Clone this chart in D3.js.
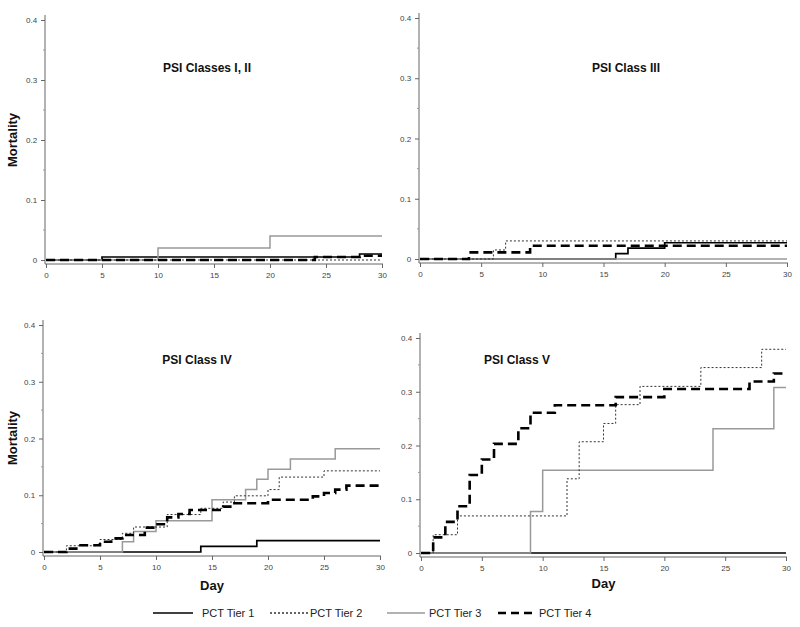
<!DOCTYPE html>
<html><head><meta charset="utf-8">
<script src="https://cdn.jsdelivr.net/npm/d3@7"></script>
<style>body{margin:0;background:#fff}svg{display:block}</style>
</head><body>
<svg id="c" width="800" height="627"></svg>
<script>
// ---------- DATA (step points: [day, cumulative mortality]) ----------
const panelTitles = ["PSI Classes I, II", "PSI Class III", "PSI Class IV", "PSI Class V"];
const tierNames = ["PCT Tier 1", "PCT Tier 2", "PCT Tier 3", "PCT Tier 4"];
const xTicks = [0, 5, 10, 15, 20, 25, 30];
const yTicks = [0, 0.1, 0.2, 0.3, 0.4];
const yTickLabels = ["0", "0.1", "0.2", "0.3", "0.4"];
const lastDay = 30;

// PSI Classes I, II
const c12_tier1 = [[0,0],[5,0.005],[28,0.01]];
const c12_tier2 = [[0,0]];
const c12_tier3 = [[0,0],[10,0.02],[20,0.04]];
const c12_tier4 = [[0,0],[24,0.005],[28,0.007]];
// PSI Class III
const c3_tier1 = [[0,0],[16,0.009],[17,0.018],[20,0.027]];
const c3_tier2 = [[0,0],[6,0.015],[7,0.03]];
const c3_tier3 = [[0,0]];
const c3_tier4 = [[0,0],[4,0.011],[9,0.022]];
// PSI Class IV
const c4_tier1 = [[0,0],[14,0.01],[19,0.02]];
const c4_tier2 = [[0,0],[2,0.011],[5,0.022],[7,0.033],[8,0.044],[11,0.066],[14,0.077],[16,0.088],[17,0.099],[20,0.11],[21,0.132],[25,0.143]];
const c4_tier3 = [[0,0],[7,0.018],[8,0.036],[10,0.055],[15,0.092],[18,0.11],[19,0.128],[20,0.146],[22,0.164],[26,0.182]];
const c4_tier4 = [[0,0],[2,0.006],[3,0.012],[5,0.018],[6,0.024],[7,0.03],[9,0.043],[10,0.049],[11,0.061],[12,0.067],[13,0.074],[16,0.08],[17,0.086],[20,0.092],[24,0.098],[25,0.104],[26,0.11],[27,0.117]];
// PSI Class V
const c5_tier1 = [[0,0]];
const c5_tier2 = [[0,0],[1,0.034],[3,0.069],[12,0.138],[13,0.207],[15,0.241],[16,0.276],[18,0.31],[23,0.345],[28,0.379]];
const c5_tier3 = [[0,0],[9,0.077],[10,0.154],[24,0.231],[29,0.308]];
const c5_tier4 = [[0,0],[1,0.029],[2,0.058],[3,0.087],[4,0.145],[5,0.174],[6,0.203],[8,0.232],[9,0.261],[11,0.275],[16,0.29],[20,0.305],[27,0.319],[29,0.334]];

const panelSeries = [
  [c12_tier1, c12_tier2, c12_tier3, c12_tier4],
  [c3_tier1, c3_tier2, c3_tier3, c3_tier4],
  [c4_tier1, c4_tier2, c4_tier3, c4_tier4],
  [c5_tier1, c5_tier2, c5_tier3, c5_tier4]
];

// ---------- LAYOUT / STYLE ----------
const layout = [
  {x0:46,  x30:382, y0:260, y4:20,  tx:207, ty:72,  ylab:140, xlab:null},
  {x0:420, x30:787, y0:259, y4:18,  tx:626, ty:72,  ylab:null, xlab:null},
  {x0:44,  x30:380, y0:552, y4:325, tx:197, ty:364, ylab:438, xlab:590},
  {x0:421, x30:786, y0:553, y4:338, tx:517, ty:364, ylab:null, xlab:588}
];
const styles = [
  {stroke:"#000",    width:1.7, dash:null},
  {stroke:"#333",    width:1,   dash:"2,2"},
  {stroke:"#999",    width:1.5, dash:null},
  {stroke:"#000",    width:2.6, dash:"9,5"}
];
const drawOrder = [0, 2, 1, 3];
const font = "Arial, 'Liberation Sans', Helvetica, sans-serif";

const svg = d3.select("#c");

layout.forEach((L, p) => {
  const x = d3.scaleLinear().domain([0, 30]).range([L.x0, L.x30]);
  const y = d3.scaleLinear().domain([0, 0.4]).range([L.y0, L.y4]);
  const g = svg.append("g");

  // x axis
  const xAxisY = L.y0 + 4;
  const xa = g.append("g").attr("transform", `translate(0,${xAxisY})`)
    .call(d3.axisBottom(x).tickValues(xTicks).tickSize(4).tickSizeOuter(0).tickFormat(d3.format("d")));
  xa.select(".domain").attr("stroke", "#666").attr("d", `M${L.x0-1},0H${L.x30+1}`);
  xa.selectAll(".tick line").attr("stroke", "#666");
  xa.selectAll(".tick text").attr("font-family", font).attr("font-size", 8).attr("fill", "#444").attr("dy", "0.9em");

  // y axis
  const ya = g.append("g").attr("transform", `translate(${L.x0-1},0)`)
    .call(d3.axisLeft(y).tickValues(yTicks).tickSize(4).tickSizeOuter(0).tickFormat((d,i) => yTickLabels[i]));
  ya.select(".domain").attr("stroke", "#666").attr("d", `M0,${L.y4-5}V${xAxisY}`);
  ya.selectAll(".tick line").attr("stroke", "#666");
  ya.selectAll(".tick text").attr("font-family", font).attr("font-size", 8).attr("fill", "#444").attr("dx", "-0.1em");
  // minor ticks
  g.append("g").selectAll("line").data([0.05, 0.15, 0.25, 0.35]).join("line")
    .attr("x1", L.x0-1).attr("x2", L.x0-3).attr("y1", d => y(d)).attr("y2", d => y(d))
    .attr("stroke", "#999").attr("stroke-width", 1);

  // curves
  const line = d3.line().x(d => x(d[0])).y(d => y(d[1])).curve(d3.curveStepAfter);
  drawOrder.forEach(t => {
    const ser = panelSeries[p][t];
    const pts = ser.concat([[lastDay, ser[ser.length-1][1]]]);
    const s = styles[t];
    g.append("path").attr("d", line(pts)).attr("fill", "none")
      .attr("stroke", s.stroke).attr("stroke-width", s.width)
      .attr("stroke-dasharray", s.dash);
  });

  // title
  g.append("text").attr("x", L.tx).attr("y", L.ty).attr("text-anchor", "middle")
    .attr("font-family", font).attr("font-weight", "bold").attr("font-size", 12).attr("fill", "#111")
    .text(panelTitles[p]);

  if (L.ylab !== null) {
    g.append("text").attr("transform", `translate(17,${L.ylab}) rotate(-90)`)
      .attr("text-anchor", "middle").attr("font-family", font).attr("font-weight", "bold")
      .attr("font-size", 13).attr("fill", "#111").text("Mortality");
  }
  if (L.xlab !== null) {
    g.append("text").attr("x", (L.x0 + L.x30) / 2).attr("y", L.xlab)
      .attr("text-anchor", "middle").attr("font-family", font).attr("font-weight", "bold")
      .attr("font-size", 13).attr("fill", "#111").text("Day");
  }
});

// legend
const legendItems = [
  {x1:153, x2:193, tx:202},
  {x1:270, x2:308, tx:310},
  {x1:387, x2:425, tx:429},
  {x1:498, x2:537, tx:539}
];
const lg = svg.append("g");
legendItems.forEach((it, i) => {
  const s = styles[i];
  lg.append("line").attr("x1", it.x1).attr("x2", it.x2).attr("y1", 613).attr("y2", 613)
    .attr("stroke", s.stroke).attr("stroke-width", i === 1 ? 1.5 : s.width)
    .attr("stroke-dasharray", i === 3 ? "8,5" : s.dash);
  lg.append("text").attr("x", it.tx).attr("y", 617).attr("font-family", font)
    .attr("font-size", 11).attr("fill", "#222").text(tierNames[i]);
});
</script>
</body></html>
